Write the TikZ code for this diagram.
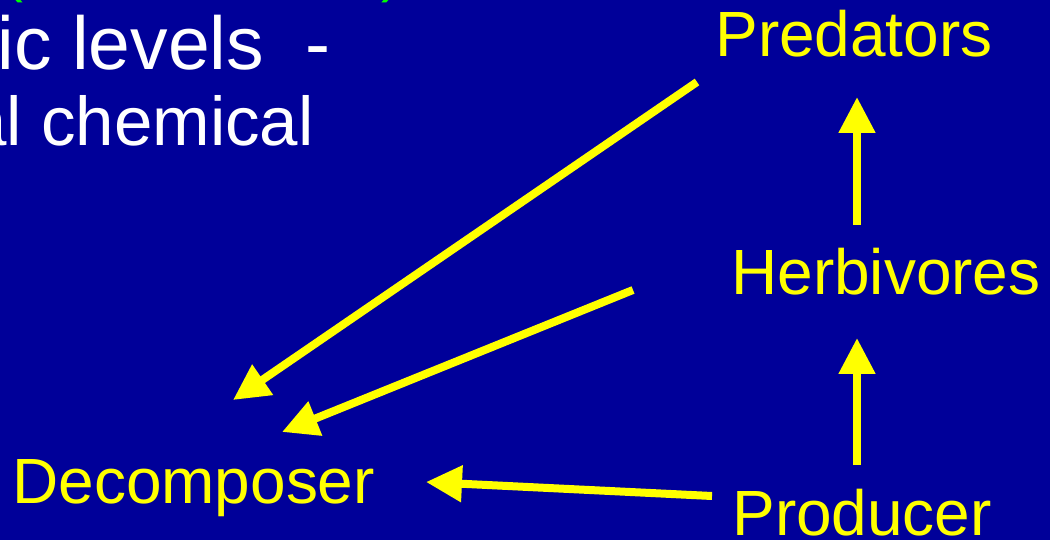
\documentclass[tikz,border=0pt]{standalone}
\usepackage{fontspec}
\setmainfont{Liberation Sans}
\usetikzlibrary{arrows.meta}
\definecolor{slide}{HTML}{000099}
\definecolor{lemon}{HTML}{FFFF00}
\definecolor{lime}{HTML}{00FF00}
\tikzset{>={Triangle[width=0.7cm,length=0.72cm]},level/.style={text=lemon,inner sep=0pt,anchor=base west,font=\fontsize{36.4}{43}\selectfont},bullet/.style={text=white,inner sep=0pt,anchor=base west},flow/.style={->,line width=0.16cm,lemon}}

\begin{document}
\begin{tikzpicture}[x=0.02cm,y=-0.02cm]
\useasboundingbox (0,0) rectangle (1050,540);
\fill[slide] (0,0) rectangle (1050,540);
\clip (0,0) rectangle (1050,540);
\node[text=lime,inner sep=0pt,anchor=base west,font=\fontsize{34}{40}\selectfont] (lpar) at (3,-9) {(};
\node[text=lime,inner sep=0pt,anchor=base west,font=\fontsize{34}{40}\selectfont] (rpar) at (381,-9) {)};
\node[bullet,font=\fontsize{42.7}{50}\selectfont] (line1) at (-3,70) {ic levels~ -};
\node[bullet,font=\fontsize{39.3}{47}\selectfont] (line2) at (-32,146) {al chemical};
\node[level] (pred) at (715,57) {Predators};
\node[level] (herb) at (731,295) {Herbivores};
\node[level] (decomp) at (12,503) {Decomposer};
\node[level] (prod) at (732,535) {Producer};
\coordinate (predtail) at (697,82);
\coordinate (herbtail) at (633,290);
\coordinate (prodtail) at (712,496);
\coordinate (deca) at (233,400);
\coordinate (decb) at (282,432);
\coordinate (decc) at (426,482);
\coordinate (upa) at (857,225);
\coordinate (upb) at (857,465);
\draw[flow] (predtail) -- (deca);
\draw[flow] (herbtail) -- (decb);
\draw[flow] (prodtail) -- (decc);
\draw[flow] (upa) -- (857,97);
\draw[flow] (upb) -- (857,338);
\end{tikzpicture}
\end{document}
